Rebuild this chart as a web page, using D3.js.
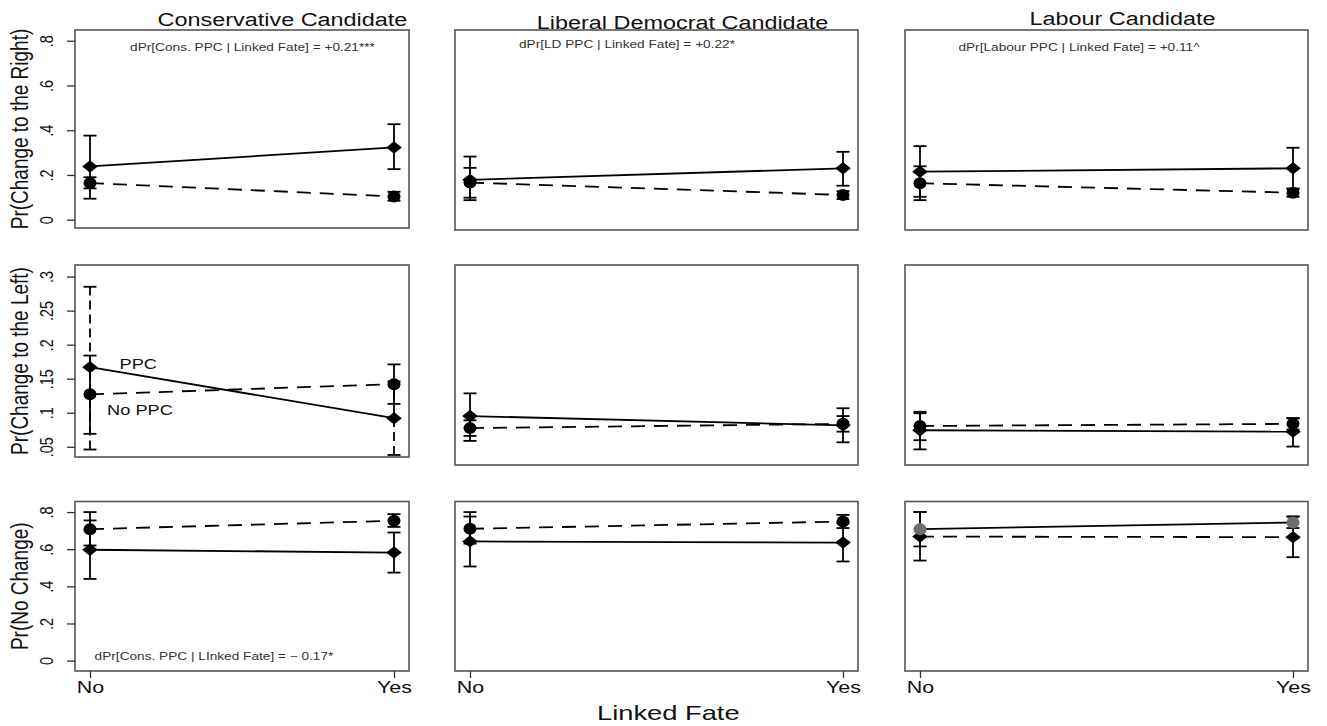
<!DOCTYPE html>
<html><head><meta charset="utf-8">
<script src="https://cdn.jsdelivr.net/npm/d3@7"></script>
<style>
html,body{margin:0;padding:0;background:#fff;}
svg{display:block;}
text{font-family:"Liberation Sans",Arial,Helvetica,sans-serif;}
</style>
</head><body>
<svg id="chart" width="1327" height="726"></svg>
<script>
// ---------- DATA ----------
const linkedFate = ["No", "Yes"];
const candidates = ["Conservative Candidate", "Liberal Democrat Candidate", "Labour Candidate"];
const outcomes = ["Pr(Change to the Right)", "Pr(Change to the Left)", "Pr(No Change)"];
const seriesLabels = ["PPC", "No PPC"];
const xTitle = "Linked Fate";

const yTickValues = [[0, .2, .4, .6, .8], [.05, .1, .15, .2, .25, .3], [0, .2, .4, .6, .8]];
const yTickLabels = [["0", ".2", ".4", ".6", ".8"], [".05", ".1", ".15", ".2", ".25", ".3"], ["0", ".2", ".4", ".6", ".8"]];
const yDomains = [[-0.037, 0.848], [0.035, 0.317], [-0.056, 0.857]];

// values per candidate: [No, Yes]
// Change to the Right
const ppcRightEst   = [[0.238, 0.323], [0.185, 0.236], [0.221, 0.236]];
const ppcRightLo    = [[0.094, 0.226], [0.095, 0.159], [0.110, 0.146]];
const ppcRightHi    = [[0.376, 0.427], [0.288, 0.309], [0.334, 0.327]];
const noPpcRightEst = [[0.164, 0.104], [0.173, 0.118], [0.170, 0.128]];
const noPpcRightLo  = [[0.140, 0.085], [0.106, 0.100], [0.095, 0.110]];
const noPpcRightHi  = [[0.190, 0.125], [0.238, 0.135], [0.245, 0.146]];
// Change to the Left
const ppcLeftEst    = [[0.167, 0.092], [0.104, 0.091], [0.084, 0.082]];
const ppcLeftLo     = [[0.046, 0.038], [0.069, 0.067], [0.057, 0.061]];
const ppcLeftHi     = [[0.285, 0.146], [0.136, 0.115], [0.108, 0.101]];
const noPpcLeftEst  = [[0.127, 0.142], [0.087, 0.093], [0.090, 0.093]];
const noPpcLeftLo   = [[0.069, 0.113], [0.076, 0.082], [0.070, 0.085]];
const noPpcLeftHi   = [[0.184, 0.171], [0.098, 0.104], [0.110, 0.101]];
// No Change
const ppcNoneEst    = [[0.597, 0.582], [0.642, 0.636], [0.668, 0.665]];
const ppcNoneLo     = [[0.440, 0.474], [0.507, 0.534], [0.539, 0.557]];
const ppcNoneHi     = [[0.755, 0.690], [0.776, 0.740], [0.800, 0.776]];
const noPpcNoneEst  = [[0.708, 0.753], [0.710, 0.749], [0.708, 0.744]];
const noPpcNoneLo   = [[0.620, 0.720], [0.630, 0.714], [0.615, 0.714]];
const noPpcNoneHi   = [[0.800, 0.789], [0.800, 0.785], [0.800, 0.776]];

const annotations = [
  "dPr[Cons. PPC | Linked Fate] = +0.21***",
  "dPr[LD PPC | Linked Fate] = +0.22*",
  "dPr[Labour PPC | Linked Fate] = +0.11^",
  "dPr[Cons. PPC | LInked Fate] = \u2212 0.17*"
];

// ---------- LAYOUT / STYLE ----------
const SX = 1.3; // horizontal stretch of the original picture's text
const colBounds = [[75, 409], [455, 858], [905, 1308]];
const rowBounds = [
  [[30, 228], [30, 230], [30, 230]],
  [[265, 457], [265, 465], [265, 465]],
  [[501.5, 671], [501.5, 671], [501.5, 671]]
];
const titlePos = [[282.5, 26], [682.5, 29], [1122.5, 25]];
const annotPos = [[252.5, 51], [627, 48], [1079, 51], [214, 660]];
const ppcCiDashed = [[false, false, false], [true, false, false], [false, false, false]];
const swapStyle = [[false, false, false], [false, false, false], [false, false, true]];

const ppcEst = [ppcRightEst, ppcLeftEst, ppcNoneEst];
const ppcLo = [ppcRightLo, ppcLeftLo, ppcNoneLo];
const ppcHi = [ppcRightHi, ppcLeftHi, ppcNoneHi];
const npEst = [noPpcRightEst, noPpcLeftEst, noPpcNoneEst];
const npLo = [noPpcRightLo, noPpcLeftLo, noPpcNoneLo];
const npHi = [noPpcRightHi, noPpcLeftHi, noPpcNoneHi];

const svg = d3.select("#chart");
svg.append("rect").attr("width", 1327).attr("height", 726).attr("fill", "#fff");

function stretch(sel, sx) {
  sel.each(function () {
    const L = this.getComputedTextLength();
    d3.select(this).attr("textLength", L * sx).attr("lengthAdjust", "spacingAndGlyphs");
  });
  return sel;
}

const diamond = "M0,-6.2L7.8,0L0,6.2L-7.8,0Z";

for (let r = 0; r < 3; r++) {
  for (let c = 0; c < 3; c++) {
    const [x0, x1] = colBounds[c];
    const [yt, yb] = rowBounds[r][c];
    const x = d3.scalePoint().domain(linkedFate).range([x0 + 15, x1 - 15]);
    const y = d3.scaleLinear().domain(yDomains[r]).range([yb, yt]);
    const g = svg.append("g");

    g.append("rect").attr("x", x0).attr("y", yt).attr("width", x1 - x0).attr("height", yb - yt)
      .attr("fill", "none").attr("stroke", "#555").attr("stroke-width", 1.6);

    // y axis
    if (c === 0) {
      const ax = g.append("g").attr("transform", `translate(${x0},0)`)
        .call(d3.axisLeft(y).tickValues(yTickValues[r]).tickSize(8)
          .tickFormat((d, i) => yTickLabels[r][i]));
      ax.select(".domain").remove();
      ax.selectAll(".tick line").attr("stroke", "#333").attr("stroke-width", 1.3);
      ax.selectAll(".tick text").attr("x", null).attr("dy", null)
        .attr("text-anchor", "middle").attr("fill", "#111")
        .style("font-size", "14.4px")
        .attr("transform", `translate(${53 - x0},0) scale(${SX},1) rotate(-90)`);
      g.append("text").text(outcomes[r])
        .attr("text-anchor", "middle").attr("fill", "#111").style("font-size", "19px")
        .attr("transform", `translate(28,${(yt + yb) / 2}) scale(${SX},1) rotate(-90)`);
    }
    // x axis
    if (r === 2) {
      const ax = g.append("g").attr("transform", `translate(0,${yb})`)
        .call(d3.axisBottom(x).tickSize(7));
      ax.select(".domain").remove();
      ax.selectAll(".tick line").attr("stroke", "#333").attr("stroke-width", 1.3);
      ax.selectAll(".tick text").attr("y", 22).attr("dy", null).attr("fill", "#111")
        .style("font-size", "16.5px").call(stretch, SX);
    }

    const swap = swapStyle[r][c];
    const series = [
      { est: ppcEst[r][c], lo: ppcLo[r][c], hi: ppcHi[r][c], marker: "diamond",
        dashed: swap, ciDash: ppcCiDashed[r][c], fill: "#000" },
      { est: npEst[r][c], lo: npLo[r][c], hi: npHi[r][c], marker: "circle",
        dashed: !swap, ciDash: false, fill: swap ? "#6e6e6e" : "#000" }
    ];

    // error bars
    series.forEach(s => {
      linkedFate.forEach((cat, i) => {
        const cx = x(cat);
        const eb = g.append("g").attr("stroke", "#000").attr("stroke-width", 1.8).attr("fill", "none");
        eb.append("line").attr("x1", cx).attr("x2", cx).attr("y1", y(s.lo[i])).attr("y2", y(s.hi[i]))
          .attr("stroke-dasharray", s.ciDash ? "9,5" : null);
        [s.lo[i], s.hi[i]].forEach(v => {
          eb.append("line").attr("x1", cx - 6.5).attr("x2", cx + 6.5).attr("y1", y(v)).attr("y2", y(v));
        });
      });
    });

    // connecting lines
    const line = d3.line().x((d, i) => x(linkedFate[i])).y(d => y(d));
    series.forEach(s => {
      g.append("path").datum(s.est).attr("d", line).attr("fill", "none")
        .attr("stroke", "#000").attr("stroke-width", 1.8)
        .attr("stroke-dasharray", s.dashed ? "14,9" : null);
    });

    // markers
    series.forEach(s => {
      linkedFate.forEach((cat, i) => {
        if (s.marker === "diamond") {
          g.append("path").attr("d", diamond).attr("fill", s.fill)
            .attr("transform", `translate(${x(cat)},${y(s.est[i])})`);
        } else {
          g.append("ellipse").attr("cx", x(cat)).attr("cy", y(s.est[i]))
            .attr("rx", 6.5).attr("ry", 6).attr("fill", s.fill);
        }
      });
    });

    // series labels in first middle panel
    if (r === 1 && c === 0) {
      g.append("text").text(seriesLabels[0]).attr("x", 138.3).attr("y", 369)
        .attr("text-anchor", "middle").attr("fill", "#111").style("font-size", "14px").call(stretch, SX);
      g.append("text").text(seriesLabels[1]).attr("x", 140).attr("y", 415)
        .attr("text-anchor", "middle").attr("fill", "#111").style("font-size", "14px").call(stretch, SX);
    }
  }
}

// column titles
candidates.forEach((t, c) => {
  svg.append("text").text(t).attr("x", titlePos[c][0]).attr("y", titlePos[c][1])
    .attr("text-anchor", "middle").attr("fill", "#111").style("font-size", "18px").call(stretch, SX);
});

// annotations
annotations.forEach((t, i) => {
  svg.append("text").text(t).attr("x", annotPos[i][0]).attr("y", annotPos[i][1])
    .attr("text-anchor", "middle").attr("fill", "#333").style("font-size", "10.5px").call(stretch, SX);
});

// x axis title
svg.append("text").text(xTitle).attr("x", 668.3).attr("y", 720)
  .attr("text-anchor", "middle").attr("fill", "#111").style("font-size", "21px").call(stretch, SX);
</script>
</body></html>
